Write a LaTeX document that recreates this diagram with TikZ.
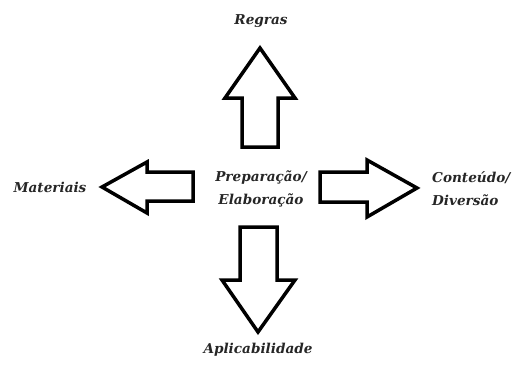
\documentclass[tikz,border=0pt]{standalone}
\usepackage{fontspec}
\setmainfont{DejaVu Serif}
\begin{document}
\begin{tikzpicture}[x=1pt,y=-1pt,
  arr/.style={draw=black,line width=3.5pt,line join=miter,fill=white},
  lbl/.style={font=\fontsize{13.6}{23}\selectfont\bfseries\itshape,text=black!85,inner sep=0pt,align=center}]
\useasboundingbox (0,0) rectangle (515,367);
% up arrow
\draw[arr] (260,48) -- (295,98) -- (278,98) -- (278,147) -- (242,147) -- (242,98) -- (225,98) -- cycle;
% left arrow
\draw[arr] (102,187) -- (147,162) -- (147,172) -- (193,172) -- (193,201) -- (147,201) -- (147,213) -- cycle;
% right arrow
\draw[arr] (417,188) -- (367,160) -- (367,172) -- (320,172) -- (320,202) -- (367,202) -- (367,217) -- cycle;
% down arrow
\draw[arr] (258,332) -- (295,280) -- (277,280) -- (277,227) -- (240,227) -- (240,280) -- (222,280) -- cycle;
\node[lbl] (regras) at (261,21) {Regras};
\node[lbl] (mat) at (50,187) {Materiais};
\node[lbl,align=left,anchor=west] (cont) at (432,189) {Conteúdo/\\Diversão};
\node[lbl] (prep) at (261,189) {Preparação/\\Elaboração};
\node[lbl] (apl) at (258,350) {Aplicabilidade};
\end{tikzpicture}
\end{document}
